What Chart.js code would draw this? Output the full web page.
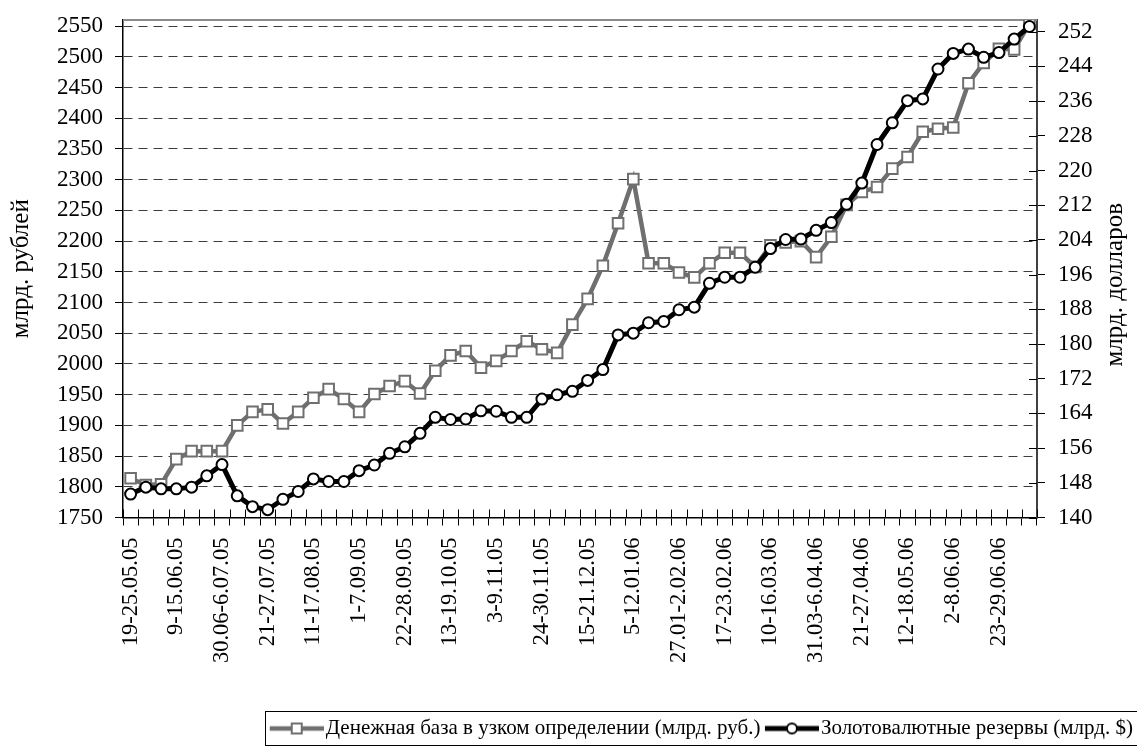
<!DOCTYPE html>
<html>
<head>
<meta charset="utf-8">
<script src="https://cdn.jsdelivr.net/npm/chart.js@4/dist/chart.umd.min.js"></script>
<style>
  html, body { margin: 0; padding: 0; background: #fff; }
  #wrap { width: 1137px; height: 753px; }
</style>
</head>
<body>
<div id="wrap"><canvas id="chart" width="1137" height="753"></canvas></div>
<script>
// weekly periods, May 2005 - July 2006
const weeks = [
  '19-25.05.05', '26.05-1.06.05', '2-8.06.05', '9-15.06.05', '16-22.06.05', '23-29.06.05',
  '30.06-6.07.05', '7-13.07.05', '14-20.07.05', '21-27.07.05', '28.07-3.08.05', '4-10.08.05',
  '11-17.08.05', '18-24.08.05', '25-31.08.05', '1-7.09.05', '8-14.09.05', '15-21.09.05',
  '22-28.09.05', '29.09-5.10.05', '6-12.10.05', '13-19.10.05', '20-26.10.05', '27.10-2.11.05',
  '3-9.11.05', '10-16.11.05', '17-23.11.05', '24-30.11.05', '1-7.12.05', '8-14.12.05',
  '15-21.12.05', '22-28.12.05', '29.12.05-4.01.06', '5-12.01.06', '13-19.01.06', '20-26.01.06',
  '27.01-2.02.06', '3-9.02.06', '10-16.02.06', '17-23.02.06', '24.02-2.03.06', '3-9.03.06',
  '10-16.03.06', '17-23.03.06', '24-30.03.06', '31.03-6.04.06', '7-13.04.06', '14-20.04.06',
  '21-27.04.06', '28.04-4.05.06', '5-11.05.06', '12-18.05.06', '19-25.05.06', '26.05-1.06.06',
  '2-8.06.06', '9-15.06.06', '16-22.06.06', '23-29.06.06', '30.06-6.07.06', '7-13.07.06'
];

// money base, narrow definition (bn rub), left axis
const moneyBase = [
  1814, 1803, 1804, 1845, 1858, 1858, 1858, 1900, 1922, 1926,
  1903, 1922, 1945, 1959, 1943, 1922, 1951, 1964, 1972, 1952,
  1989, 2014, 2021, 1994, 2005, 2021, 2037, 2024, 2018, 2064,
  2106, 2160, 2229, 2301, 2164, 2164, 2149, 2141, 2164, 2181,
  2181, 2158, 2193, 2198, 2200, 2174, 2207, 2259, 2280, 2288,
  2318, 2337, 2378, 2383, 2385, 2457, 2490, 2513, 2512, 2554
];

// gold and currency reserves (bn $), right axis
const reserves = [
  145.4, 147.0, 146.6, 146.6, 147.0, 149.6, 152.2, 145.0, 142.5, 141.8,
  144.2, 146.0, 148.9, 148.3, 148.3, 150.8, 152.1, 154.8, 156.3, 159.4,
  163.1, 162.6, 162.7, 164.6, 164.5, 163.1, 163.1, 167.3, 168.3, 169.1,
  171.6, 174.1, 182.1, 182.5, 184.9, 185.2, 187.9, 188.5, 194.0, 195.4,
  195.4, 197.7, 202.0, 204.1, 204.2, 206.2, 208.0, 212.2, 217.1, 226.0,
  231.0, 236.1, 236.5, 243.4, 247.0, 248.0, 246.1, 247.2, 250.3, 253.2
];

// tick values of both value axes
const rubTicks = [1750, 1800, 1850, 1900, 1950, 2000, 2050, 2100, 2150,
  2200, 2250, 2300, 2350, 2400, 2450, 2500, 2550];
const usdTicks = [140, 148, 156, 164, 172, 180, 188, 196, 204, 212, 220, 228, 236, 244, 252];

const seriesNames = [
  'Денежная база в узком определении (млрд. руб.)',
  'Золотовалютные резервы (млрд. $)'
];
const rubTitle = 'млрд. рублей';
const usdTitle = 'млрд. долларов';

const GRAY = '#6f6f6f';
const FONT = 'Liberation Serif, Times New Roman, serif';

// legend icon: a piece of line with the marker in the middle,
// pushed to the right of the image so the text sits close to it
function legendIcon(color, width, style) {
  const c = document.createElement('canvas');
  c.width = 63; c.height = 14;
  const g = c.getContext('2d');
  g.strokeStyle = color;
  g.lineWidth = width;
  g.beginPath(); g.moveTo(9, 7); g.lineTo(63, 7); g.stroke();
  g.fillStyle = '#fff';
  g.lineWidth = 2;
  if (style === 'rect') {
    g.fillRect(31, 2, 10, 10); g.strokeRect(31, 2, 10, 10);
  } else {
    g.beginPath(); g.arc(36, 7, 5, 0, Math.PI * 2); g.fill(); g.stroke();
  }
  return c;
}

// Excel-like bits: top frame line, cross tick marks, right title, box round the legend
const frameDecor = {
  id: 'frameDecor',
  beforeDatasetsDraw(chart) {
    const ctx = chart.ctx, a = chart.chartArea;
    const x = chart.scales.x, y1 = chart.scales.y1;
    ctx.save();
    ctx.strokeStyle = '#8c8c8c';
    ctx.lineWidth = 2;
    ctx.beginPath(); ctx.moveTo(a.left, a.top); ctx.lineTo(a.right, a.top); ctx.stroke();
    ctx.strokeStyle = '#000';
    ctx.lineWidth = 1;
    ctx.beginPath();
    const n = x.ticks.length;
    for (let i = 0; i <= n; i++) {
      const px = Math.round(x.left + i * x.width / n) + 0.5;
      ctx.moveTo(px, a.bottom); ctx.lineTo(px, a.bottom - 8);
    }
    y1.ticks.forEach((t, i) => {
      const py = Math.round(y1.getPixelForTick(i)) + 0.5;
      ctx.moveTo(a.right, py); ctx.lineTo(a.right - 8, py);
    });
    ctx.stroke();
    ctx.restore();
  },
  afterDraw(chart) {
    const ctx = chart.ctx, a = chart.chartArea;
    ctx.save();
    // right axis title reads bottom to top, like the left one
    ctx.translate(chart.width - 22, (a.top + a.bottom) / 2 + 16);
    ctx.rotate(-Math.PI / 2);
    ctx.font = '25px ' + FONT;
    ctx.fillStyle = '#000';
    ctx.textAlign = 'center';
    ctx.textBaseline = 'middle';
    ctx.fillText(usdTitle, 0, 0);
    ctx.restore();

    const lg = chart.legend, hb = lg.legendHitBoxes;
    if (!hb || !hb.length) return;
    const l = Math.min(...hb.map(b => b.left)) - 4;
    const r = Math.max(...hb.map(b => b.left + b.width)) + 4;
    ctx.save();
    ctx.strokeStyle = '#000';
    ctx.lineWidth = 1;
    ctx.strokeRect(Math.round(l) + 0.5, Math.round(lg.top) - 2.5, Math.round(r - l), Math.round(lg.height) - 1);
    ctx.restore();
  }
};

// value axes: no extra room above the chart for the top tick label
const noLabelPad = s => { s.paddingTop = 0; };

const ctx = document.getElementById('chart').getContext('2d');
new Chart(ctx, {
  type: 'line',
  data: {
    labels: weeks,
    datasets: [
      {
        label: seriesNames[0],
        data: moneyBase,
        yAxisID: 'y',
        borderColor: GRAY,
        borderWidth: 4.5,
        pointStyle: 'rect',
        pointRadius: 7.5,
        pointBorderWidth: 2,
        pointBorderColor: GRAY,
        pointBackgroundColor: '#fff',
        tension: 0,
        order: 1
      },
      {
        label: seriesNames[1],
        data: reserves,
        yAxisID: 'y1',
        borderColor: '#000',
        borderWidth: 5,
        pointStyle: 'circle',
        pointRadius: 5.5,
        pointBorderWidth: 2,
        pointBorderColor: '#000',
        pointBackgroundColor: '#fff',
        tension: 0,
        order: 0
      }
    ]
  },
  options: {
    responsive: false,
    animation: false,
    layout: { padding: { top: 20, left: 0, right: 0, bottom: 4 } },
    plugins: {
      tooltip: { enabled: false },
      legend: {
        position: 'bottom',
        align: 'end',
        labels: {
          usePointStyle: true,
          pointStyleWidth: 46,
          padding: 4,
          color: '#000',
          font: { family: FONT, size: 21 },
          generateLabels: () => [
            { text: seriesNames[0], pointStyle: legendIcon(GRAY, 4.5, 'rect'), fillStyle: '#fff', strokeStyle: GRAY, lineWidth: 0, datasetIndex: 0, hidden: false },
            { text: seriesNames[1], pointStyle: legendIcon('#000', 5, 'circle'), fillStyle: '#fff', strokeStyle: '#000', lineWidth: 0, datasetIndex: 1, hidden: false }
          ]
        }
      }
    },
    scales: {
      x: {
        type: 'category',
        offset: true,
        grid: { display: true, offset: true, drawOnChartArea: false, drawTicks: true, tickLength: 8, tickColor: '#000', tickWidth: 1 },
        border: { color: '#000', width: 1.5 },
        ticks: {
          autoSkip: false,
          maxRotation: 90,
          minRotation: 90,
          padding: 12,
          color: '#000',
          font: { family: FONT, size: 22.5 },
          callback: (v, i) => (i % 3 === 0 ? weeks[i] : '')
        },
        afterFit: s => { s.height = 196.5; }
      },
      y: {
        position: 'left',
        min: 1750,
        max: 2560,
        grid: { color: '#3c3c3c', lineWidth: 1, tickLength: 8, tickColor: '#000', tickBorderDash: [] },
        border: { color: '#000', width: 1.5, dash: [9, 6] },
        afterBuildTicks: s => { s.ticks = rubTicks.map(v => ({ value: v })); },
        ticks: { padding: 12, color: '#000', font: { family: FONT, size: 23 }, callback: v => String(v) },
        title: { display: true, text: rubTitle, color: '#000', font: { family: FONT, size: 25 }, padding: { top: 6, bottom: 0 } },
        afterFit: s => { s.width = 123; noLabelPad(s); }
      },
      y1: {
        position: 'right',
        min: 140,
        max: 254.7,
        grid: { drawOnChartArea: false, tickLength: 8, tickColor: '#000' },
        border: { color: '#404040', width: 2 },
        afterBuildTicks: s => { s.ticks = usdTicks.map(v => ({ value: v })); },
        ticks: { padding: 13, color: '#000', font: { family: FONT, size: 23 }, callback: v => String(v) },
        afterFit: s => { s.width = 100; noLabelPad(s); }
      }
    }
  },
  plugins: [frameDecor]
});
</script>
</body>
</html>
